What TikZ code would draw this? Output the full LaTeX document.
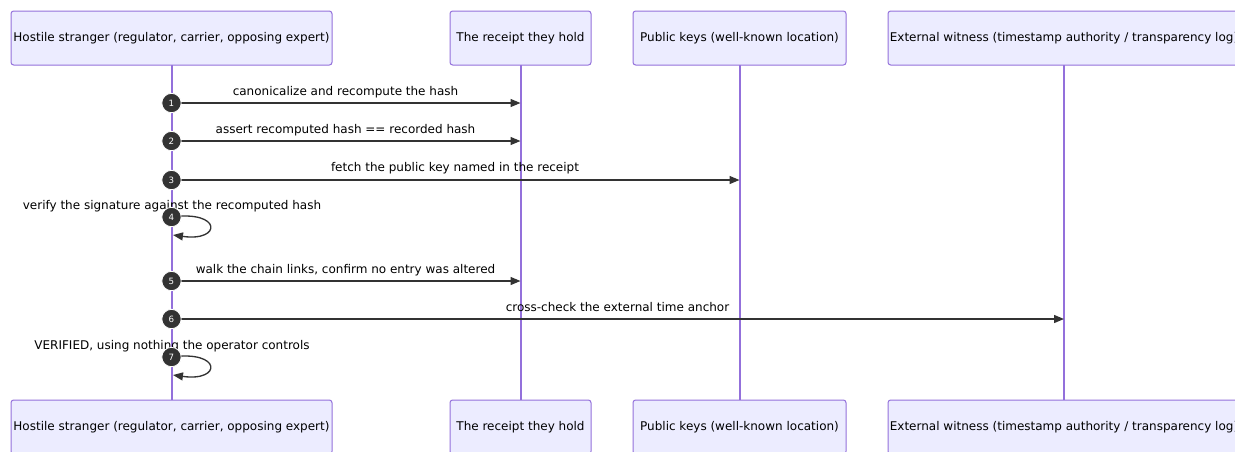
\documentclass[tikz,border=0pt]{standalone}
\usepackage{fontspec}
\setmainfont{DejaVu Sans}
\usetikzlibrary{arrows.meta}
\definecolor{actfill}{HTML}{ECECFF}
\definecolor{actline}{HTML}{9370DB}
\definecolor{ink}{HTML}{333333}
\begin{document}
\begin{tikzpicture}[x=0.75pt,y=-0.75pt,
  actor/.style={draw=actline,fill=actfill,line width=0.75pt,rounded corners=2pt,
    minimum height=54*0.75pt,inner sep=0pt,font=\fontsize{9}{11}\selectfont,text=black},
  life/.style={draw=actline,line width=1.5pt},
  msg/.style={draw=ink,line width=1pt,-{Triangle[length=7.5pt,width=6pt]}},
  lbl/.style={font=\fontsize{9}{11}\selectfont,text=black,anchor=base,inner sep=0pt},
  num/.style={circle,fill=ink,draw=white,line width=0.6pt,minimum size=14.5pt,inner sep=0pt,
    text=white,font=\fontsize{6.5}{7}\selectfont}]
\useasboundingbox (0,0) rectangle (1235,451);
\clip (0,0) rectangle (1235,451);
% lifelines, drawn first so the boxes sit on top
\coordinate (x1) at (171.5,38);
\coordinate (x2) at (520.5,38);
\coordinate (x3) at (739.5,38);
\coordinate (x4) at (1064,38);
\draw[life] (171.5,60) -- (171.5,410);
\draw[life] (520.5,60) -- (520.5,410);
\draw[life] (739.5,60) -- (739.5,410);
\draw[life] (1064,60) -- (1064,410);
% participant boxes, top row
\node[actor,minimum width=321*0.75pt] (a1) at (x1) {Hostile stranger (regulator, carrier, opposing expert)};
\node[actor,minimum width=141*0.75pt] (a2) at (x2) {The receipt they hold};
\node[actor,minimum width=213*0.75pt] (a3) at (x3) {Public keys (well-known location)};
\node[actor,minimum width=352*0.75pt] (a4) at (x4) {External witness (timestamp authority / transparency log)};
% participant boxes, bottom row
\node[actor,minimum width=321*0.75pt] (b1) at (171.5,427) {Hostile stranger (regulator, carrier, opposing expert)};
\node[actor,minimum width=141*0.75pt] (b2) at (520.5,427) {The receipt they hold};
\node[actor,minimum width=213*0.75pt] (b3) at (739.5,427) {Public keys (well-known location)};
\node[actor,minimum width=352*0.75pt] (b4) at (1064,427) {External witness (timestamp authority / transparency log)};
% anchor points on the lifelines
\coordinate (s1) at (171.5,103);  \coordinate (t1) at (520.5,103);
\coordinate (s2) at (171.5,141);  \coordinate (t2) at (520.5,141);
\coordinate (s3) at (171.5,180);  \coordinate (t3) at (739.5,180);
\coordinate (s4) at (171.5,217);  \coordinate (t4) at (173,235);
\coordinate (s5) at (171.5,281);  \coordinate (t5) at (520.5,281);
\coordinate (s6) at (171.5,319);  \coordinate (t6) at (1064,319);
\coordinate (s7) at (171.5,357);  \coordinate (t7) at (173,375);
% messages
\draw[msg] (s1) -- (t1);
\draw[msg] (s2) -- (t2);
\draw[msg] (s3) -- (t3);
\draw[msg] (s4) .. controls (222,210) and (222,242) .. (t4);
\draw[msg] (s5) -- (t5);
\draw[msg] (s6) -- (t6);
\draw[msg] (s7) .. controls (222,350) and (222,382) .. (t7);
% message labels
\node[lbl] (l1) at (345.5,95) {canonicalize and recompute the hash};
\node[lbl] (l2) at (345.5,133) {assert recomputed hash == recorded hash};
\node[lbl] (l3) at (455,171) {fetch the public key named in the receipt};
\node[lbl] (l4) at (172,209) {verify the signature against the recomputed hash};
\node[lbl] (l5) at (345.5,273) {walk the chain links, confirm no entry was altered};
\node[lbl] (l6) at (617.5,311) {cross-check the external time anchor};
\node[lbl] (l7) at (172,349) {VERIFIED, using nothing the operator controls};
% sequence numbers
\node[num] (n1) at (s1) {1};
\node[num] (n2) at (s2) {2};
\node[num] (n3) at (s3) {3};
\node[num] (n4) at (s4) {4};
\node[num] (n5) at (s5) {5};
\node[num] (n6) at (s6) {6};
\node[num] (n7) at (s7) {7};
\end{tikzpicture}
\end{document}
